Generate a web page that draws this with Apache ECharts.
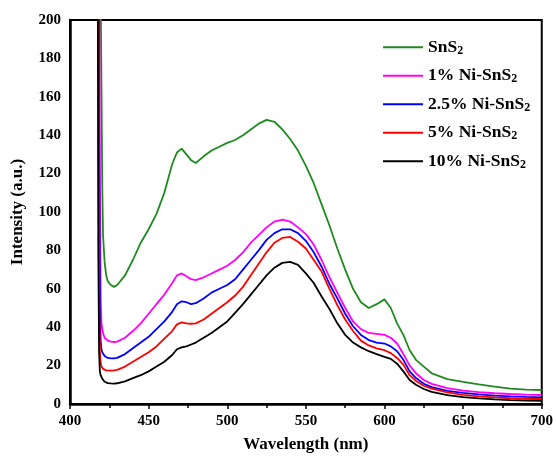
<!DOCTYPE html>
<html>
<head>
<meta charset="utf-8">
<script src="https://cdn.jsdelivr.net/npm/echarts@6/dist/echarts.min.js"></script>
<style>html,body{margin:0;padding:0;background:#fff}#c{width:556px;height:460px}</style>
</head>
<body>
<div id="c"></div>
<script>
const wavelength = [417,417.5,418,418.5,419,419.5,420,420.5,421,422,423,424,426,428,430,435,440,445,450,455,460,465,468,471,474,477,480,485,490,495,500,505,510,515,520,525,530,535,540,545,550,555,560,565,570,575,580,585,590,595,600,604,608,612,616,620,625,630,640,650,660,670,680,690,700];
const sns2 = [700,600,500,400,300,215,165,115,88,74,67,64,62,61,62,67,75,84,91,99,110,125,131,133,130,127,125.5,129,132,134,136,137.5,140,143,146,148,147,143,138,132,124,115,104,93,81,70,60,53,50,52,54.5,50,42,36,28,23,19.5,16,13,11.5,10.2,9,8,7.5,7.3];
const ni1 = [600,500,400,250,120,55,42,39,37,34.5,33.5,33,32.5,32.3,32.5,34.5,38,42,47,52,57,63,67,68,66.5,65,64.5,66,68,70,72,75,79,84,88,92,95,96,95,92,88.5,83,75,66,58,50,43,39,37,36.5,36,34.5,31.5,26,20,16,12.5,10.5,8.3,7,6.2,5.6,5.2,4.9,4.7];
const ni25 = [600,500,350,150,50,33,28.5,27,26,25,24.5,24,23.8,23.8,24,26,29,32,35,39,43,48,52,53.5,53,52,52.5,55,58,60,62,65,70,75,80,85.5,89,91,91,89,85,79,71.5,62.5,55,47,40.5,36,33.3,32,31.5,30,27.5,23,17,13.5,10.5,8.8,6.8,5.8,5,4.4,4,3.7,3.5];
const ni5 = [600,450,200,60,27,21.5,19.5,18.8,18.3,17.8,17.5,17.4,17.4,17.5,17.8,19.5,22,24.5,27,30,34,38,41.5,42.5,42,41.8,42,44,47,50,53,56.5,61,67,73,79,84,86.5,87,84.5,81,75,69,60,51.5,44,38,33,30.5,29,28,26.5,24,20.5,15,12,9.5,8,6,4.8,4,3.4,3,2.7,2.6];
const ni10 = [500,300,80,27,17,15,14,13.2,12.5,11.6,11.1,10.9,10.7,10.6,10.8,11.8,13.5,15,17,19.5,22,25.5,28.5,29.5,30,31,32,34.5,37,40,43,47.5,52,57,62,67,71,73.5,74,72.5,68,63,56,49.5,42,36,32,29.5,27.5,26,24.5,23.5,21,17,12.5,10,7.8,6.3,4.6,3.6,2.9,2.4,2,1.8,1.7];
const seriesNames = ['SnS2','1% Ni-SnS2','2.5% Ni-SnS2','5% Ni-SnS2','10% Ni-SnS2'];
const seriesData = [sns2, ni1, ni25, ni5, ni10];
const seriesColors = ['#1f8b1f','#ff00ff','#0000ff','#ff0000','#000000'];

const font = 'Liberation Serif, Times New Roman, serif';
const chart = echarts.init(document.getElementById('c'));
chart.setOption({
  animation: false,
  backgroundColor: '#fff',
  grid: {left: 70, right: 11, top: 20, bottom: 56, show: true, borderColor: '#000', borderWidth: 2},
  legend: {
    orient: 'vertical', left: 378, top: 33, itemWidth: 40, itemHeight: 2, itemGap: 10,
    icon: 'rect',
    data: seriesNames,
    formatter: function (n) { return n.replace(/S2$/, 'S{sub|2}'); },
    textStyle: {
      fontFamily: font, fontWeight: 'bold', fontSize: 17.5, color: '#000', lineHeight: 18.5,
      rich: {sub: {fontFamily: font, fontWeight: 'bold', fontSize: 12, verticalAlign: 'bottom', padding: [9,0,0,0]}}
    }
  },
  xAxis: {
    type: 'value', min: 400, max: 700, interval: 50,
    name: 'Wavelength (nm)', nameLocation: 'middle', nameGap: 32,
    nameTextStyle: {fontFamily: font, fontWeight: 'bold', fontSize: 17, color: '#000'},
    axisLine: {lineStyle: {color: '#000', width: 2.5}},
    axisTick: {inside: false, length: 5, lineStyle: {color: '#000', width: 1.5}},
    minorTick: {show: true, splitNumber: 2, length: 4, lineStyle: {color: '#000', width: 1.5}},
    axisLabel: {fontFamily: font, fontWeight: 'bold', fontSize: 15, color: '#000', margin: 10},
    splitLine: {show: false}
  },
  yAxis: {
    type: 'value', min: 0, max: 200, interval: 20,
    name: 'Intensity (a.u.)', nameLocation: 'middle', nameGap: 44,
    nameTextStyle: {fontFamily: font, fontWeight: 'bold', fontSize: 17, color: '#000'},
    axisLine: {show: true, lineStyle: {color: '#000', width: 2.5}},
    axisTick: {show: false},
    axisLabel: {fontFamily: font, fontWeight: 'bold', fontSize: 15, color: '#000', margin: 9},
    splitLine: {show: false}
  },
  series: seriesNames.map(function (name, i) {
    return {
      name: name, type: 'line', showSymbol: false, clip: true,
      color: seriesColors[i],
      lineStyle: {width: 1.8, color: seriesColors[i]},
      data: wavelength.map(function (w, j) { return [w, seriesData[i][j]]; })
    };
  })
});
</script>
</body>
</html>
